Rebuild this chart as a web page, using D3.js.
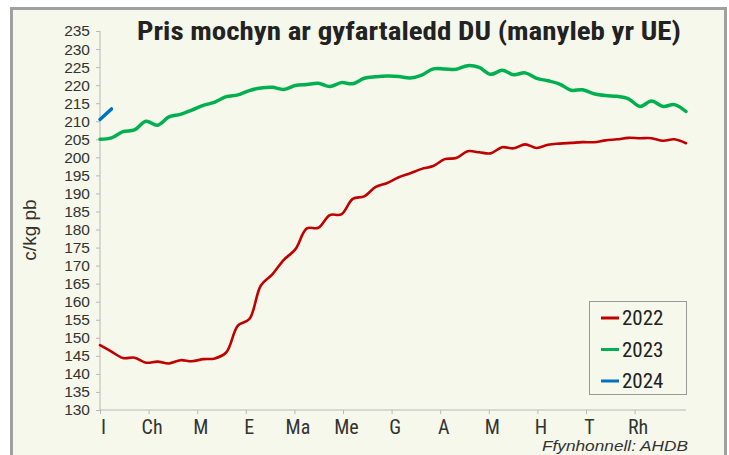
<!DOCTYPE html>
<html><head><meta charset="utf-8">
<script src="https://cdn.jsdelivr.net/npm/d3@7"></script>
<style>
html,body{margin:0;padding:0;background:#fff;}
svg{display:block;}
</style></head>
<body>
<svg id="c" width="729" height="455"></svg>
<script>
const months = ["I","Ch","M","E","Ma","Me","G","A","M","H","T","Rh"];
const yTicks = d3.range(130, 236, 5);
const series2022 = [148.0,146.2,144.4,144.5,143.1,143.4,142.9,143.8,143.5,144.1,144.3,146.0,153.4,155.2,164.5,167.6,171.6,174.5,180.3,180.5,184.0,184.2,188.5,189.2,191.8,192.9,194.5,195.6,196.8,197.6,199.5,199.8,201.7,201.4,201.1,202.8,202.5,203.6,202.6,203.5,203.8,204.0,204.2,204.2,204.7,205.0,205.4,205.3,205.3,204.6,205.0,203.9];
const series2023 = [205.0,205.4,207.1,207.6,210.0,208.9,211.2,211.9,213.1,214.4,215.3,216.8,217.3,218.5,219.2,219.4,218.8,219.9,220.2,220.5,219.6,220.7,220.4,221.9,222.3,222.5,222.4,222.0,222.8,224.5,224.5,224.4,225.4,224.9,223.0,224.1,222.9,223.4,221.9,221.2,220.3,218.6,218.7,217.6,217.1,216.9,216.2,214.1,215.6,214.1,214.6,212.7];
const series2024 = [210.5,213.4];
const seriesNames = ["2022","2023","2024"];
const seriesColors = ["#c00000","#00b050","#0070c0"];

const svg = d3.select("#c");
const FONT = "'Liberation Sans Narrow','Roboto Condensed','Open Sans',sans-serif";
const FONT2 = "'Liberation Sans',Arial,sans-serif";

// panel
svg.append("rect").attr("x",11.5).attr("y",8.5).attr("width",714).attr("height",470)
  .attr("fill","#f5f8ea").attr("stroke","#a0a0a0").attr("stroke-width",3);

const x0 = 100, x1 = 686;
const x = d3.scaleLinear().domain([0,51]).range([x0,x1]);
const y = d3.scaleLinear().domain([130,235]).range([410,31]);
const xm = d3.scaleLinear().domain([0,12]).range([x0, x0 + 12*48.6]);

// y axis
const ya = svg.append("g").attr("transform",`translate(${x0},0)`)
  .call(d3.axisLeft(y).tickValues(yTicks).tickSize(4).tickPadding(6));
ya.select(".domain").attr("stroke","#b8b8b8").attr("d",`M0,${y(235)}V${y(130)}`);
ya.selectAll(".tick line").attr("stroke","#b8b8b8");
ya.selectAll("text").attr("font-family",FONT2).attr("font-size",15.5).attr("fill","#333");

// x axis
const xa = svg.append("g").attr("transform",`translate(0,${y(130)})`)
  .call(d3.axisBottom(xm).tickValues(d3.range(0,12)).tickFormat(i=>months[i]).tickSize(4).tickPadding(6));
xa.select(".domain").attr("stroke","#b8b8b8").attr("d",`M${x0},0H${x1}`);
xa.selectAll(".tick line").attr("stroke","#b8b8b8");
xa.selectAll("text").attr("font-family",FONT).attr("font-size",20).attr("fill","#333").attr("dx",3);

// y title
svg.append("text").attr("transform","translate(36,230) rotate(-90)")
  .attr("text-anchor","middle").attr("font-family",FONT2).attr("font-size",19).attr("fill","#333")
  .text("c/kg pb");

// title
svg.append("text").attr("x",409).attr("y",40).attr("text-anchor","middle")
  .attr("font-family",FONT).attr("font-weight","bold").attr("font-size",25).attr("fill","#222")
  .attr("textLength",544).attr("lengthAdjust","spacingAndGlyphs")
  .text("Pris mochyn ar gyfartaledd DU (manyleb yr UE)");

// lines
const line = d3.line().x((d,i)=>x(i)).y(d=>y(d)).curve(d3.curveCatmullRom.alpha(0.5));
const all = [series2022, series2023, series2024];
const widths = [2.6, 3.5, 3.5];
all.forEach((s,k)=>{
  svg.append("path").datum(s).attr("d",line).attr("fill","none")
    .attr("stroke",seriesColors[k]).attr("stroke-width",widths[k]).attr("stroke-linecap","round");
});

// legend
const lg = svg.append("g");
lg.append("rect").attr("x",589.5).attr("y",301.5).attr("width",97).attr("height",93)
  .attr("fill","#f5f8ea").attr("stroke","#999").attr("stroke-width",1);
seriesNames.forEach((n,k)=>{
  const yy = 318 + k*31.5;
  lg.append("line").attr("x1",601).attr("x2",619).attr("y1",yy).attr("y2",yy)
    .attr("stroke",seriesColors[k]).attr("stroke-width",3);
  lg.append("text").attr("x",622).attr("y",yy+7).attr("font-family",FONT).attr("font-size",21)
    .attr("fill","#222").text(n);
});

// source
svg.append("text").attr("x",688).attr("y",451).attr("text-anchor","end")
  .attr("font-family",FONT2).attr("font-style","italic").attr("font-size",15).attr("fill","#333")
  .attr("textLength",146).attr("lengthAdjust","spacingAndGlyphs")
  .text("Ffynhonnell: AHDB");
</script>
</body></html>
